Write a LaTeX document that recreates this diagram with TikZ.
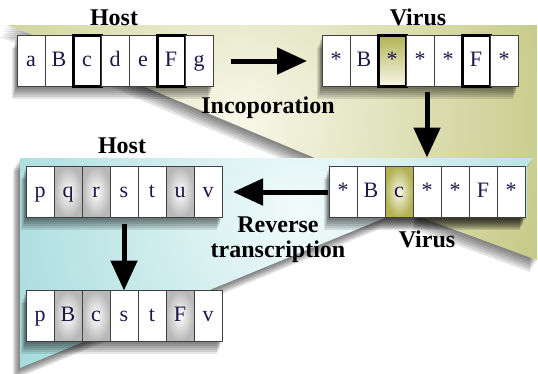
\documentclass[tikz,border=0pt]{standalone}
\usepackage{fontspec}
\setmainfont{Liberation Serif}
\usetikzlibrary{positioning,arrows.meta}
\pgfdeclarelayer{back}
\pgfdeclarelayer{shade}
\pgfsetlayers{back,shade,main}
\definecolor{oliveD}{RGB}{152,160,44}
\definecolor{oliveL}{RGB}{248,248,234}
\definecolor{oliveM}{RGB}{178,178,84}
\definecolor{cyanD}{RGB}{100,192,194}
\definecolor{cyanL}{RGB}{242,251,251}
\definecolor{letter}{RGB}{28,24,74}
\begin{document}
\begin{tikzpicture}[x=1pt,y=-1pt,
  cell/.style={rectangle,draw=black!75,line width=0.8pt,fill=white,minimum width=28pt,minimum height=51pt,inner sep=0pt,outer sep=0pt,text height=15pt,text depth=4pt,text=letter,font=\fontsize{22}{24}\selectfont},
  marked/.style={draw=black,line width=3pt},
  grey cell/.style={inner color=white,outer color=black!28},
  olive cell/.style={inner color=oliveL,outer color=oliveM},
  olive top/.style={top color=oliveM,bottom color=oliveL},
  heading/.style={font=\bfseries\fontsize{24}{25}\selectfont,anchor=base},
  bigarrow/.style={-{Triangle[length=30pt,width=26pt]},line width=5pt}]
  \useasboundingbox (0,0) rectangle (538,373);

  \begin{pgfonlayer}{back}
  \foreach \k in {1,...,6}
    \fill[black,opacity=.1,xshift={-1.2pt*\k},yshift={-2pt*\k}] (7,25) -- (537,25) -- (537,260) -- (420,217) -- (420,160) -- (315,158) -- (145,87) -- (33,35) -- cycle;
  \begin{scope}
    \clip (7,25) -- (537,25) -- (537,260) -- (420,217) -- (420,160) -- (315,158) -- (145,87) -- (33,35) -- cycle;
    \shade[inner color=oliveL,outer color=oliveD] (240,120) circle (620);
  \end{scope}
  \foreach \k in {1,...,6}
    \fill[black,opacity=.1,xshift={-1.2pt*\k},yshift={-2pt*\k}] (20,158) -- (533,158) -- (527,166) -- (527,217) -- (387,217) -- (20,368) -- cycle;
  \begin{scope}
    \clip (20,158) -- (533,158) -- (527,166) -- (527,217) -- (387,217) -- (20,368) -- cycle;
    \shade[inner color=cyanL,outer color=cyanD] (300,210) circle (600);
  \end{scope}
  \end{pgfonlayer}

  \node[cell] (a1) at (31,61) {a};
  \node[cell] (a2) [right=0pt of a1] {B};
  \node[cell,marked] (a3) [right=0pt of a2] {c};
  \node[cell] (a4) [right=0pt of a3] {d};
  \node[cell] (a5) [right=0pt of a4] {e};
  \node[cell,marked] (a6) [right=0pt of a5] {F};
  \node[cell] (a7) [right=0pt of a6] {g};

  \node[cell] (b1) at (336,61) {*};
  \node[cell] (b2) [right=0pt of b1] {B};
  \node[cell,marked,olive top] (b3) [right=0pt of b2] {*};
  \node[cell] (b4) [right=0pt of b3] {*};
  \node[cell] (b5) [right=0pt of b4] {*};
  \node[cell,marked] (b6) [right=0pt of b5] {F};
  \node[cell] (b7) [right=0pt of b6] {*};

  \node[cell] (c1) at (343,192) {*};
  \node[cell] (c2) [right=0pt of c1] {B};
  \node[cell,olive cell] (c3) [right=0pt of c2] {c};
  \node[cell] (c4) [right=0pt of c3] {*};
  \node[cell] (c5) [right=0pt of c4] {*};
  \node[cell] (c6) [right=0pt of c5] {F};
  \node[cell] (c7) [right=0pt of c6] {*};

  \node[cell] (d1) at (40,192) {p};
  \node[cell,grey cell] (d2) [right=0pt of d1] {q};
  \node[cell,grey cell] (d3) [right=0pt of d2] {r};
  \node[cell] (d4) [right=0pt of d3] {s};
  \node[cell] (d5) [right=0pt of d4] {t};
  \node[cell,grey cell] (d6) [right=0pt of d5] {u};
  \node[cell] (d7) [right=0pt of d6] {v};

  \node[cell] (e1) at (40,316) {p};
  \node[cell,grey cell] (e2) [right=0pt of e1] {B};
  \node[cell,grey cell] (e3) [right=0pt of e2] {c};
  \node[cell] (e4) [right=0pt of e3] {s};
  \node[cell] (e5) [right=0pt of e4] {t};
  \node[cell,grey cell] (e6) [right=0pt of e5] {F};
  \node[cell] (e7) [right=0pt of e6] {v};

  \begin{pgfonlayer}{shade}
  \foreach \r in {a,b,c,d,e}
    \foreach \k in {1,...,6}
      \fill[black,opacity=.1] ([xshift={-0.8pt*\k},yshift={-2pt*\k}]\r1.north west) rectangle ([xshift={-0.8pt*\k},yshift={-2pt*\k}]\r7.south east);
  \end{pgfonlayer}

  \node[heading] (host1) at (114,25) {Host};
  \node[heading] (virus1) at (418,25) {Virus};
  \node[heading] (incorp) at (268,113) {Incoporation};
  \node[heading] (host2) at (122,153) {Host};
  \node[heading,anchor=center,align=center] (rev) at (278,240) {Reverse\\transcription};
  \node[heading] (virus2) at (427,247) {Virus};

  \draw[bigarrow,shorten <=18pt,shorten >=15pt] (a7) -- (b1);
  \draw[bigarrow,shorten <=5pt,shorten >=9pt] (c4.north |- b4.south) -- (c4.north);
  \draw[bigarrow,shorten <=1pt,shorten >=11pt] (c1) -- (d7);
  \draw[bigarrow,shorten <=6pt] (d4) -- (e4);
\end{tikzpicture}
\end{document}
